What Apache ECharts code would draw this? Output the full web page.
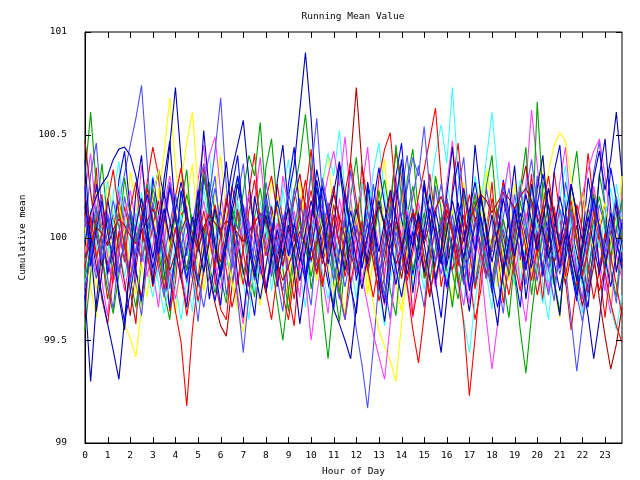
<!DOCTYPE html>
<html>
<head>
<meta charset="utf-8">
<script src="https://cdn.jsdelivr.net/npm/echarts@6/dist/echarts.min.js"></script>
<style>html,body{margin:0;padding:0;background:#fff;}#c{width:640px;height:480px;}</style>
</head>
<body>
<div id="c"></div>
<script>
const hours = [0,0.25,0.5,0.75,1,1.25,1.5,1.75,2,2.25,2.5,2.75,3,3.25,3.5,3.75,4,4.25,4.5,4.75,5,5.25,5.5,5.75,
6,6.25,6.5,6.75,7,7.25,7.5,7.75,8,8.25,8.5,8.75,9,9.25,9.5,9.75,10,10.25,10.5,10.75,11,11.25,11.5,11.75,
12,12.25,12.5,12.75,13,13.25,13.5,13.75,14,14.25,14.5,14.75,15,15.25,15.5,15.75,16,16.25,16.5,16.75,17,17.25,17.5,17.75,
18,18.25,18.5,18.75,19,19.25,19.5,19.75,20,20.25,20.5,20.75,21,21.25,21.5,21.75,22,22.25,22.5,22.75,23,23.25,23.5,23.75];
const xTickValues = [0,1,2,3,4,5,6,7,8,9,10,11,12,13,14,15,16,17,18,19,20,21,22,23];
const xTickLabels = ['0','1','2','3','4','5','6','7','8','9','10','11','12','13','14','15','16','17','18','19','20','21','22','23'];
const yTickValues = [99,99.5,100,100.5,101];
const yTickLabels = ['99','99.5','100','100.5','101'];

const r1 = [100.12,99.95,100.08,100.21,99.87,99.78,99.92,100.15,100.03,99.84,99.71,99.90,
100.06,100.18,99.97,99.82,99.64,99.49,99.18,99.55,99.80,100.02,100.14,99.96,
99.88,100.07,100.25,100.11,99.93,99.76,99.89,100.04,100.19,100.30,100.12,99.98,
99.85,99.70,99.92,100.09,100.23,100.05,99.87,99.99,100.16,100.02,99.81,99.94,
100.10,100.27,100.14,99.96,99.79,99.68,99.90,100.08,100.01,99.86,100.04,100.20,
100.33,100.48,100.63,100.29,100.02,99.84,99.97,100.11,99.93,99.75,99.88,100.05,
100.17,99.99,99.83,99.95,100.12,100.26,100.09,99.91,99.72,99.86,100.03,100.15,
99.97,99.80,99.93,100.10,100.22,100.06,99.89,99.74,99.85,100.01,100.13,99.95];
const r2 = [99.85,100.10,99.92,99.70,99.58,99.81,100.03,99.88,100.14,100.27,100.05,99.93,
99.76,99.90,100.11,99.98,100.20,100.34,100.12,99.87,99.69,99.83,100.01,100.16,
100.02,99.84,99.66,99.79,99.95,100.13,100.28,100.09,99.91,100.06,99.88,99.72,
99.60,99.81,100.00,100.17,99.96,99.82,99.97,100.12,100.25,100.07,99.90,99.78,
99.93,100.08,99.85,99.71,99.88,100.04,100.21,100.10,99.92,99.76,99.55,99.39,
99.62,99.89,100.05,99.91,100.14,100.02,99.80,99.58,99.23,99.51,99.83,100.00,
100.19,100.07,99.86,99.72,99.90,100.08,99.95,99.79,99.96,100.15,100.30,100.11,
99.94,99.81,99.98,100.16,100.04,99.87,99.70,99.84,100.02,99.91,99.77,99.62];
const r3 = [100.20,100.05,99.90,100.02,100.18,100.33,100.12,99.96,99.80,99.94,100.09,100.24,
100.08,99.89,99.75,99.92,100.05,99.83,99.62,99.79,99.97,100.13,99.99,99.85,
100.01,100.19,100.06,99.91,99.77,99.95,100.10,99.93,99.74,99.60,99.82,100.03,
100.15,99.98,100.12,100.28,100.07,99.90,99.76,99.94,100.11,99.96,100.22,100.37,
100.18,99.97,99.84,100.01,100.29,100.43,100.51,100.20,99.95,99.79,99.93,100.08,
99.90,99.73,99.87,100.03,100.17,100.01,99.86,100.05,100.21,100.09,99.92,99.80,
99.95,100.12,100.27,100.06,99.88,99.74,99.91,100.07,99.93,100.10,100.24,100.04,
99.86,100.02,100.18,99.99,99.81,99.95,100.13,100.00,99.83,99.68,99.57,99.49];
const dr1 = [100.47,100.22,100.01,99.86,99.98,100.11,99.94,99.78,99.62,99.85,100.04,99.91,
99.80,99.95,100.09,100.26,100.13,99.97,99.84,100.00,100.17,99.99,99.81,99.68,
99.57,99.52,99.76,99.93,100.08,100.20,100.05,99.89,100.02,100.15,99.98,99.86,
100.03,100.18,100.31,100.14,99.96,99.83,99.99,100.12,99.94,99.79,100.05,100.38,
100.73,100.35,100.06,99.88,99.74,99.90,100.07,99.95,99.80,99.97,100.14,100.02,
99.85,99.71,99.89,100.06,100.19,100.04,99.90,99.78,99.93,100.10,99.96,99.82,
99.98,100.13,100.01,99.87,100.04,100.22,100.35,100.16,99.97,99.84,99.99,100.12,
99.93,99.77,99.91,100.06,99.88,99.73,99.86,100.03,100.17,100.00,99.84,99.97];
const dr2 = [99.90,99.97,100.05,100.02,99.96,100.04,100.09,100.06,100.01,99.97,100.03,100.08,
100.14,100.06,99.95,99.84,99.92,100.03,100.10,100.02,99.94,100.05,100.11,100.07,
100.04,100.08,100.06,100.02,99.98,100.03,100.07,100.12,100.08,99.99,99.88,99.79,
99.86,99.95,100.03,99.97,99.89,99.98,100.06,100.14,100.21,100.10,100.00,99.92,
99.83,99.91,100.01,100.09,100.15,100.06,99.96,99.87,99.95,100.04,100.12,100.05,
99.97,100.06,100.14,100.20,100.11,100.02,99.93,99.99,100.08,100.15,100.21,100.18,
100.12,100.17,100.22,100.19,100.14,100.20,100.24,100.18,100.10,100.03,99.96,99.88,
99.95,100.04,99.93,99.80,99.67,99.78,99.92,99.70,99.52,99.36,99.48,99.66];
const g1 = [100.30,100.61,100.25,99.98,99.84,99.97,100.12,99.95,99.80,99.66,99.88,100.02,
100.16,100.04,99.89,99.76,99.91,100.07,100.21,100.08,99.93,100.05,99.87,99.73,
99.86,100.00,100.14,99.96,99.82,99.95,100.10,100.24,100.06,99.90,99.78,99.92,
100.08,100.22,100.38,100.60,100.31,100.04,99.66,99.41,99.70,99.94,100.09,99.97,
99.84,99.99,100.13,100.01,99.86,99.72,99.90,100.06,99.94,100.11,100.25,100.07,
99.91,99.79,99.95,100.10,99.98,99.83,99.70,99.88,100.04,100.18,100.02,99.87,
99.99,100.14,99.96,99.81,100.00,100.23,100.44,99.94,100.66,100.20,99.92,99.77,
99.90,100.05,99.89,99.74,99.93,100.09,100.21,100.03,99.86,99.98,100.12,99.94];
const g2 = [99.80,99.94,100.07,99.91,99.75,99.63,99.82,100.00,100.13,99.98,100.10,100.26,
100.09,99.92,99.79,99.95,100.11,99.97,99.84,100.01,100.17,100.31,100.12,99.96,
99.83,99.97,100.15,100.04,100.22,100.40,100.30,100.56,100.18,99.88,99.69,99.50,
99.74,99.93,100.08,99.95,99.81,99.96,100.11,100.00,99.86,99.73,99.89,100.04,
100.17,100.03,99.88,99.99,100.14,100.28,100.10,100.45,100.19,99.97,99.84,99.98,
100.12,99.95,99.80,99.93,100.07,99.92,99.78,99.90,100.06,100.21,100.05,99.89,
99.76,99.92,100.09,99.96,99.82,99.55,99.34,99.62,99.85,100.03,100.16,99.99,
99.87,100.01,100.14,99.97,99.83,99.94,100.08,100.20,100.06,99.91,100.04,100.18];
const y1 = [100.05,99.88,99.75,99.90,100.04,99.86,99.70,99.58,99.51,99.42,99.66,99.89,
100.06,100.20,100.41,100.68,100.35,100.08,99.92,100.03,99.87,99.74,99.91,100.07,
100.18,100.02,99.85,99.97,100.12,99.95,99.81,99.67,99.84,100.00,100.15,100.03,
99.90,100.06,100.21,100.08,99.93,99.79,99.94,100.10,99.96,99.83,99.99,100.14,
100.01,99.87,99.72,99.88,100.03,100.17,100.05,99.93,100.08,99.94,99.80,99.95,
100.09,100.23,100.07,99.91,99.78,99.92,100.06,99.97,99.84,99.99,100.13,100.02,
99.89,99.76,99.94,100.11,99.98,99.85,100.00,100.16,100.04,100.19,100.32,100.45,
100.51,100.47,100.28,100.06,99.90,99.78,99.93,100.08,99.96,99.82,99.98,100.10];
const y2 = [99.93,100.08,100.22,100.05,99.89,100.02,100.16,100.03,99.86,99.72,99.88,100.04,
100.19,100.33,100.12,99.94,100.10,100.28,100.46,100.61,100.24,99.97,99.81,99.95,
100.09,99.93,99.78,99.65,99.54,99.70,99.88,100.03,99.91,100.07,100.20,100.05,
99.90,99.76,99.92,100.06,99.95,100.12,100.01,99.86,99.73,99.89,100.05,99.98,
100.11,99.96,99.82,99.68,99.55,99.47,99.40,99.30,99.58,99.86,100.02,99.90,
100.06,100.19,100.03,99.88,99.99,100.14,100.00,99.85,99.97,100.12,100.25,100.08,
99.94,100.07,99.92,99.79,99.95,100.10,99.97,99.83,99.96,100.11,100.23,100.06,
99.91,99.80,99.95,100.09,100.22,100.07,99.93,100.05,100.17,99.99,99.84,99.97];
const c1 = [100.02,99.87,100.00,100.14,100.27,100.09,99.94,99.81,99.96,100.12,99.98,99.84,
99.71,99.86,100.01,99.89,99.76,99.60,99.79,99.95,100.10,100.24,100.07,99.92,
100.05,99.91,99.78,99.93,100.09,100.20,100.04,99.88,100.02,100.16,99.99,99.85,
99.97,100.11,99.95,99.82,99.98,100.13,100.27,100.41,100.30,100.52,100.22,99.96,
99.83,99.97,100.12,100.26,100.08,99.92,99.79,99.94,100.10,99.96,99.81,99.95,
100.09,100.22,100.40,100.55,100.36,100.73,100.31,100.02,99.86,99.99,100.15,100.38,
100.61,100.30,100.05,99.90,99.77,99.93,100.08,99.95,99.80,99.68,99.85,100.01,
99.88,100.03,100.17,100.00,99.84,99.71,99.86,99.99,99.83,99.66,99.55,99.72];
const c2 = [99.88,100.04,99.90,100.06,99.93,100.09,100.25,100.10,99.95,100.08,100.22,100.07,
99.92,99.78,99.63,99.80,99.97,100.11,99.96,99.82,99.68,99.84,99.99,100.14,
100.00,99.86,100.03,100.18,100.01,99.87,99.74,99.89,100.05,99.92,100.08,100.23,
100.07,99.93,99.79,99.94,100.09,99.97,99.83,99.70,99.86,100.02,100.15,99.99,
100.13,100.27,100.09,100.32,100.46,100.21,99.98,99.84,99.99,100.14,100.03,99.88,
99.75,99.90,100.06,99.93,99.80,99.95,99.77,99.60,99.44,99.69,99.87,100.04,
100.18,100.03,99.89,100.00,100.13,100.28,100.10,99.94,100.07,99.92,99.78,99.94,
100.08,100.21,100.04,99.89,99.76,99.91,100.06,99.95,100.10,100.24,100.08,99.93];
const m1 = [100.10,99.96,99.83,99.97,100.12,100.01,99.87,99.74,99.90,100.06,100.19,100.03,
99.89,100.02,100.16,100.30,100.13,99.98,99.85,100.00,100.14,100.27,100.40,100.49,
100.22,100.04,99.90,99.77,99.93,100.08,99.95,99.82,99.96,100.11,100.00,99.86,
99.99,100.13,99.97,99.80,99.50,99.72,99.91,100.06,99.94,100.08,100.23,100.05,
99.91,99.78,99.94,100.10,99.96,99.83,99.98,100.12,100.01,99.87,100.03,100.17,
100.04,99.90,99.76,99.92,100.07,99.95,99.81,99.67,99.85,100.01,99.88,99.60,
99.36,99.58,99.84,100.00,100.15,100.02,100.26,100.62,100.35,100.08,99.93,99.80,
99.95,100.10,99.97,99.83,99.98,100.14,100.03,99.88,99.74,99.90,100.06,99.92];
const m2 = [99.92,100.07,100.21,100.05,99.91,99.78,99.93,100.09,100.23,100.08,99.94,99.81,
99.96,100.11,99.98,99.84,99.70,99.86,100.02,99.89,100.04,100.18,100.03,99.88,
99.75,99.91,100.06,99.93,100.08,100.21,100.05,99.90,99.76,99.92,100.07,99.95,
100.10,99.97,99.84,99.99,100.14,100.02,100.16,100.30,100.42,100.25,100.49,100.19,
99.96,99.81,99.67,99.53,99.42,99.31,99.58,99.84,100.00,100.13,99.98,99.85,
100.00,100.15,100.02,99.88,99.75,99.91,100.06,99.94,100.09,100.22,100.07,99.92,
99.78,99.93,100.08,99.96,99.82,99.97,100.12,99.99,99.85,100.01,100.16,100.04,
99.89,100.03,99.95,100.10,100.21,100.33,100.42,100.48,100.30,100.08,99.92,99.80];
const mb1 = [99.86,100.01,100.15,99.98,99.84,100.00,100.17,100.31,100.45,100.58,100.74,100.36,
100.02,99.85,99.71,99.88,100.04,99.92,99.78,99.93,100.08,99.95,100.10,100.24,
100.07,99.91,99.78,99.94,100.10,99.97,99.83,99.99,100.14,100.02,99.87,99.74,
99.90,100.05,100.19,100.03,99.88,100.01,100.16,99.99,99.85,99.72,99.60,99.78,
99.55,99.38,99.17,99.46,99.79,100.02,100.15,99.98,99.84,100.00,100.13,99.97,
99.83,99.96,100.11,100.26,100.08,99.93,100.05,99.90,99.76,99.92,100.07,99.94,
99.80,99.95,100.10,100.24,100.06,99.91,100.03,100.18,100.01,99.86,99.72,99.88,
100.02,99.85,99.60,99.35,99.58,99.84,100.01,100.16,100.04,99.89,100.03,100.18];
const mb2 = [100.08,99.93,99.80,99.95,100.11,99.97,99.83,99.98,100.13,100.02,99.88,100.03,
100.17,100.04,99.90,100.06,100.21,100.05,99.91,100.07,100.22,100.36,100.20,100.42,
100.68,100.25,99.95,99.70,99.44,99.72,99.98,100.12,99.96,99.81,99.97,100.11,
99.98,99.84,99.99,100.14,100.00,99.86,100.02,100.17,100.03,99.89,99.76,99.91,
100.06,99.93,100.08,99.94,99.80,99.96,100.12,100.27,100.10,100.24,100.39,100.30,
100.54,100.23,99.97,99.82,99.96,100.11,99.98,99.84,99.99,100.15,100.02,99.87,
99.73,99.89,100.04,99.92,100.08,100.23,100.07,99.93,99.79,99.94,100.09,99.96,
99.82,99.97,100.13,100.00,99.86,100.02,100.17,100.05,99.90,100.06,100.20,100.04];
const mb3 = [99.75,99.90,100.04,99.89,100.03,100.18,100.05,99.91,99.78,99.94,100.09,99.96,
99.82,99.97,100.12,100.27,100.10,99.95,100.09,99.94,99.80,99.66,99.82,99.98,
100.13,100.00,99.85,100.01,100.16,100.03,99.89,100.04,100.19,100.06,99.92,100.07,
100.22,100.08,99.94,100.10,100.31,100.58,100.20,99.93,99.79,99.95,100.10,99.97,
99.83,99.98,100.13,100.00,99.86,99.71,99.87,100.03,99.90,100.05,100.20,100.35,
100.18,100.02,99.88,100.04,100.19,100.06,99.92,99.77,99.93,100.08,99.94,99.80,
99.95,100.10,100.25,100.08,99.93,100.07,100.22,100.38,100.16,99.99,99.84,99.99,
100.14,100.01,99.87,99.72,99.59,99.75,99.91,100.06,99.93,100.08,99.95,100.09];
const db1 = [99.72,99.30,99.68,99.95,100.10,99.96,99.83,99.99,100.14,100.02,99.88,100.04,
100.19,100.33,100.20,100.45,100.73,100.38,100.06,99.90,99.77,99.93,100.08,99.95,
99.81,99.96,100.11,99.98,99.84,99.70,99.86,100.01,100.16,100.03,99.89,100.05,
100.20,100.35,100.62,100.90,100.58,100.15,99.92,99.78,99.65,99.58,99.50,99.41,
99.66,99.92,100.07,99.94,99.80,99.95,100.10,100.24,100.09,99.96,100.11,99.97,
99.83,99.98,100.13,100.00,99.86,100.01,100.17,100.04,99.90,100.06,100.21,100.07,
99.93,100.08,99.94,99.80,99.96,100.12,99.99,99.85,100.00,100.15,100.02,99.88,
99.74,99.89,100.05,99.92,99.78,99.62,99.41,99.60,99.86,100.02,100.17,100.04];
const db2 = [100.15,100.01,99.86,99.72,99.58,99.45,99.31,99.60,99.88,100.05,100.19,100.04,
99.90,100.06,100.21,100.08,99.94,99.80,99.95,100.10,99.97,99.83,99.98,100.14,
100.00,100.16,100.33,100.45,100.57,100.28,100.01,99.86,99.73,99.89,100.04,99.91,
100.06,99.93,99.79,99.94,100.09,100.24,100.08,99.95,100.11,99.97,99.84,99.99,
100.14,100.01,99.87,100.02,100.18,100.05,99.91,99.77,99.93,100.08,99.95,100.10,
99.97,99.80,99.62,99.44,99.70,99.95,100.11,99.98,100.13,100.27,100.10,99.96,
100.11,99.97,99.83,99.99,100.14,100.00,99.86,100.02,100.17,100.04,99.90,100.05,
100.20,100.07,99.93,99.79,99.95,100.10,99.96,99.82,99.97,100.12,99.99,99.85];
const db3 = [99.98,100.12,100.20,100.26,100.30,100.38,100.43,100.44,100.40,100.30,100.14,99.98,
99.85,100.00,100.14,99.99,100.13,100.27,100.12,99.97,100.11,100.52,100.22,99.96,
99.82,99.97,100.12,100.26,100.09,99.94,99.81,99.96,100.11,99.98,99.84,100.00,
100.15,100.02,99.88,100.03,100.18,100.05,99.90,100.07,100.22,100.37,100.19,100.04,
99.89,99.75,99.91,100.06,99.93,100.08,100.23,100.10,99.96,99.82,99.97,100.12,
99.99,100.14,100.01,99.87,100.03,100.18,100.04,99.90,100.06,100.45,100.20,100.03,
99.88,100.03,100.19,100.05,99.91,100.06,100.21,100.08,99.94,100.09,100.24,100.10,
99.96,100.11,100.26,100.12,99.98,100.14,100.29,100.42,100.23,100.38,100.61,100.30];
const b1 = [100.25,99.86,100.04,100.18,100.03,99.88,99.74,99.59,99.73,99.90,100.06,100.21,
100.07,99.92,100.08,100.24,100.09,99.94,99.80,99.96,100.12,99.98,99.83,99.69,
99.85,100.01,100.16,100.30,100.14,99.99,99.84,99.70,99.86,100.02,100.18,100.05,
99.91,100.07,99.93,99.78,99.94,100.10,100.25,100.11,99.96,99.81,99.97,100.13,
100.00,99.85,100.01,100.17,100.34,100.16,100.00,99.85,99.71,99.87,100.03,99.89,
100.05,100.21,100.06,99.91,99.76,99.92,100.08,100.24,100.09,99.94,100.10,99.95,
99.80,99.66,99.82,99.98,100.14,99.99,99.84,100.00,100.16,100.31,100.15,100.00,
99.85,100.01,99.87,99.72,99.88,100.04,100.19,100.05,99.90,99.76,99.92,100.07];
const e1 = [99.62,100.05,100.34,99.91,99.70,99.88,100.18,100.02,99.74,99.58,99.93,100.27,
100.44,100.30,99.96,99.64,99.78,100.11,100.15,99.82,100.06,100.34,100.16,99.79,
99.65,99.60,99.89,100.14,99.98,100.22,100.41,100.03,99.73,99.92,100.26,100.08,
99.72,99.57,99.89,100.21,100.43,100.10,99.78,99.91,100.05,99.74,99.60,99.87,
100.02,100.35,100.18,99.94,99.69,99.81,100.16,100.42,100.29,99.95,99.62,99.77,
100.09,100.31,100.07,99.76,99.90,100.24,100.46,100.17,99.83,99.60,99.74,100.02,
100.27,99.93,99.68,99.86,100.10,99.89,100.04,100.31,99.93,99.69,100.03,100.32,
100.12,99.79,99.55,99.78,100.13,100.41,100.16,99.84,99.61,99.86,100.18,99.86];
const e2 = [100.38,99.95,99.64,99.83,100.19,100.02,99.71,99.55,99.89,100.22,100.40,100.06,
99.77,100.01,100.29,100.47,100.12,99.80,99.66,99.94,100.23,99.99,99.70,99.88,
100.16,100.37,100.09,99.81,99.61,99.86,100.20,100.05,99.74,99.92,100.27,100.45,
100.14,99.83,99.58,99.79,100.08,100.33,100.18,99.87,100.02,100.36,100.11,99.76,
99.63,99.91,100.25,100.07,99.78,99.59,99.84,100.17,100.38,100.04,99.73,99.95,
100.28,100.09,99.79,99.93,100.21,100.44,100.13,99.81,99.64,99.88,100.19,100.06,
99.75,99.57,99.86,100.12,100.35,100.02,99.70,99.91,100.24,100.40,100.08,99.78,
99.62,99.94,100.26,100.11,99.80,99.66,99.97,100.30,100.48,100.14,99.83,99.99];
const e3 = [99.55,99.82,100.12,100.36,100.08,99.79,100.01,100.29,100.10,99.84,99.67,99.93,
100.24,100.05,99.73,99.60,99.87,100.15,100.33,100.00,99.76,99.94,100.27,100.13,
99.81,99.68,99.96,100.30,100.12,99.86,99.71,100.02,100.34,100.48,100.16,99.85,
99.64,99.90,100.19,100.04,99.75,99.92,100.26,100.09,99.78,99.59,99.87,100.20,
100.39,100.10,99.82,99.97,100.23,100.05,99.74,99.62,99.93,100.28,100.43,100.11,
99.80,99.98,100.30,100.14,99.85,99.66,99.91,100.22,100.05,99.76,99.93,100.25,
100.40,100.07,99.78,99.61,99.89,100.18,100.02,99.72,99.95,100.27,100.10,99.79,
99.64,99.93,100.24,100.42,100.12,99.82,99.99,100.31,100.15,99.85,99.71,100.03];
const e4 = [100.22,100.41,100.10,99.78,99.62,99.90,100.24,100.06,99.80,100.03,100.35,100.18,
99.84,99.66,99.95,100.27,100.12,99.83,99.69,99.96,100.28,100.45,100.09,99.77,
99.93,100.21,100.01,99.72,99.58,99.86,100.17,100.39,100.11,99.82,100.00,100.30,
100.15,99.86,99.71,100.02,100.33,100.12,99.80,99.63,99.91,100.19,100.04,99.76,
99.90,100.24,100.44,100.13,99.81,99.67,99.98,100.29,100.08,99.77,99.61,99.92,
100.25,100.06,99.79,99.95,100.26,100.47,100.15,99.83,99.68,99.97,100.23,100.04,
99.73,99.88,100.20,100.37,100.05,99.76,99.59,99.85,100.16,100.02,99.74,99.95,
100.27,100.44,100.13,99.82,99.66,99.95,100.25,100.09,99.78,99.63,99.92,100.21];
const e5 = [99.78,100.14,99.97,99.69,99.88,100.21,100.37,100.04,99.75,99.60,99.90,100.16,
100.30,99.99,99.73,99.91,100.20,100.07,99.81,99.64,99.94,100.25,100.41,100.10,
99.80,99.95,100.26,100.10,99.79,99.60,99.87,100.18,100.03,99.74,99.92,100.23,
100.38,100.09,99.83,99.66,99.95,100.26,100.12,99.85,100.02,100.31,100.17,99.88,
99.70,99.96,100.22,100.05,99.76,99.57,99.85,100.14,100.33,100.02,99.75,99.91,
100.20,100.03,99.77,99.94,100.27,100.12,99.84,99.67,99.98,100.30,100.14,99.82,
99.65,99.93,100.18,100.36,100.07,99.79,99.96,100.24,100.06,99.76,99.60,99.89,
100.19,100.35,100.05,99.77,99.63,99.92,100.22,100.08,99.80,99.95,100.26,100.10];
const e6 = [100.08,99.76,99.61,99.94,100.28,100.12,99.83,99.98,100.32,100.17,99.87,99.71,
99.96,100.24,100.06,99.78,99.63,99.90,100.19,100.36,100.03,99.74,99.91,100.22,
100.40,100.11,99.82,99.67,99.94,100.23,100.07,99.79,99.97,100.29,100.14,99.84,
99.69,99.98,100.27,100.10,99.81,99.94,100.25,100.41,100.09,99.78,99.62,99.91,
100.18,100.02,99.74,99.88,100.20,100.38,100.06,99.77,99.64,99.95,100.24,100.08,
99.80,99.97,100.29,100.13,99.84,99.69,99.96,100.27,100.11,99.82,100.00,100.33,
100.16,99.86,99.70,99.99,100.26,100.08,99.79,99.93,100.21,100.39,100.05,99.76,
99.61,99.92,100.21,100.06,99.78,99.94,100.25,100.12,99.83,99.67,99.96,100.30];
const e7 = [100.05,100.31,100.46,100.12,99.80,99.65,99.93,100.20,100.04,99.77,99.62,99.89,
100.17,100.33,100.01,99.75,99.91,100.22,100.08,99.82,99.59,99.86,100.15,100.30,
100.00,99.72,99.88,100.19,100.36,100.06,99.79,99.96,100.27,100.11,99.80,99.64,
99.93,100.24,100.09,99.82,99.67,99.98,100.29,100.14,99.84,99.70,100.01,100.33,
100.13,99.85,99.98,100.26,100.07,99.77,99.60,99.91,100.22,100.40,100.10,99.81,
99.66,99.95,100.25,100.04,99.76,99.92,100.23,100.39,100.06,99.78,99.94,100.24,
100.08,99.80,99.63,99.92,100.21,100.05,99.77,99.97,100.30,100.14,99.85,99.69,
99.98,100.27,100.11,99.83,99.70,100.00,100.32,100.47,100.15,99.84,99.68,99.95];
const e8 = [99.70,99.98,100.26,100.10,99.82,99.95,100.28,100.42,100.13,99.84,99.69,99.97,
100.29,100.12,99.83,99.66,99.94,100.23,100.07,99.80,99.97,100.30,100.15,99.85,
99.67,99.95,100.24,100.40,100.09,99.78,99.62,99.90,100.21,100.04,99.76,99.93,
100.26,100.44,100.12,99.81,99.97,100.28,100.11,99.83,99.65,99.93,100.22,100.06,
99.79,99.94,100.27,100.13,99.84,99.68,99.99,100.30,100.46,100.12,99.82,99.97,
100.25,100.08,99.79,99.61,99.90,100.21,100.37,100.03,99.74,99.91,100.23,100.07,
99.78,99.96,100.28,100.12,99.83,99.66,99.95,100.26,100.10,99.81,99.99,100.32,
100.45,100.14,99.84,99.69,99.98,100.29,100.13,99.85,100.01,100.34,100.18,99.88];

const RED='#ff0000', DRED='#b00000', GREEN='#00a000', YEL='#ffff00', CYAN='#40ffff',
      MAG='#ff40ff', MBLUE='#5050ff', DBLUE='#0000b0', BLUE='#0000ff';
const seriesList = [
  [e6,YEL],[e5,CYAN],[e4,MAG],[e3,GREEN],[e1,RED],
  [y1,YEL],[c1,CYAN],[m1,MAG],[g1,GREEN],[r1,RED],[dr1,DRED],[mb1,MBLUE],[db1,DBLUE],
  [e7,MBLUE],[e8,BLUE],
  [y2,YEL],[c2,CYAN],[m2,MAG],[g2,GREEN],[r2,RED],[dr2,DRED],[mb2,MBLUE],[db2,DBLUE],
  [e2,DBLUE],[r3,RED],[mb3,MBLUE],[b1,BLUE],[db3,DBLUE]
];

const X_MIN = 0, X_MAX = 23.75, Y_MIN = 99, Y_MAX = 101, TICK_LEN = 6;
const FONT = 'DejaVu Sans Mono';
const txt = {color:'#000', fontFamily:FONT, fontSize:9.5};
const chart = echarts.init(document.getElementById('c'), null, {renderer:'canvas'});
const axLine = {show:true, onZero:false, lineStyle:{color:'#000', width:1}};
const tickStyle = {stroke:'#000', lineWidth:1};

// Mirrored inward ticks (bottom+top for hours, left+right for values), placed through the axes' scales
function xTickItem(params, api) {
  const b = api.coord([api.value(0), Y_MIN]);
  const t = api.coord([api.value(0), Y_MAX]);
  const x = Math.round(b[0]) + 0.5;
  return {type:'group', children:[
    {type:'line', shape:{x1:x, y1:b[1], x2:x, y2:b[1]-TICK_LEN}, style:tickStyle},
    {type:'line', shape:{x1:x, y1:t[1], x2:x, y2:t[1]+TICK_LEN}, style:tickStyle}
  ]};
}
function yTickItem(params, api) {
  const l = api.coord([X_MIN, api.value(1)]);
  const r = api.coord([X_MAX, api.value(1)]);
  const y = Math.round(l[1]) + 0.5;
  return {type:'group', children:[
    {type:'line', shape:{x1:l[0], y1:y, x2:l[0]+TICK_LEN, y2:y}, style:tickStyle},
    {type:'line', shape:{x1:r[0], y1:y, x2:r[0]-TICK_LEN, y2:y}, style:tickStyle}
  ]};
}

const lineSeries = seriesList.map(([vals,col]) => ({
  type:'line', xAxisIndex:0, yAxisIndex:0, showSymbol:false, symbol:'none', silent:true,
  lineStyle:{color:col, width:1.1}, itemStyle:{color:col},
  data: hours.map((h,i) => [h, vals[i]])
}));

chart.setOption({
  animation:false,
  backgroundColor:'#fff',
  title:{text:'Running Mean Value', left:353, top:12, padding:0, textAlign:'center',
    textStyle:{color:'#000', fontFamily:FONT, fontSize:9.5, fontWeight:'normal'}},
  grid:{left:85, right:18, top:32, bottom:37, containLabel:false, outerBoundsMode:'none',
    show:true, borderColor:'#000', borderWidth:1, backgroundColor:'transparent'},
  xAxis:[
    {type:'value', min:X_MIN, max:X_MAX, interval:1, position:'bottom',
     axisLine:axLine, axisTick:{show:false},
     axisLabel:{...txt, margin:8, interval:0, showMaxLabel:false, formatter:(v)=>xTickLabels[Math.round(v)] || ''},
     splitLine:{show:false},
     name:'Hour of Day', nameLocation:'middle', nameGap:24, nameTextStyle:txt}
  ],
  yAxis:[
    {type:'value', min:Y_MIN, max:Y_MAX, interval:0.5, position:'left',
     axisLine:axLine, axisTick:{show:false},
     axisLabel:{...txt, margin:18, formatter:(v)=>yTickLabels[Math.round((v-Y_MIN)*2)]},
     splitLine:{show:false},
     name:'Cumulative mean', nameLocation:'middle', nameGap:57, nameRotate:90, nameTextStyle:txt}
  ],
  series: lineSeries.concat([
    {type:'custom', renderItem:xTickItem, xAxisIndex:0, yAxisIndex:0, silent:true, clip:false, z:10,
     encode:{x:0, y:1}, data: xTickValues.map(v => [v, Y_MIN])},
    {type:'custom', renderItem:yTickItem, xAxisIndex:0, yAxisIndex:0, silent:true, clip:false, z:10,
     encode:{x:0, y:1}, data: yTickValues.map(v => [X_MIN, v])}
  ])
});
</script>
</body>
</html>
